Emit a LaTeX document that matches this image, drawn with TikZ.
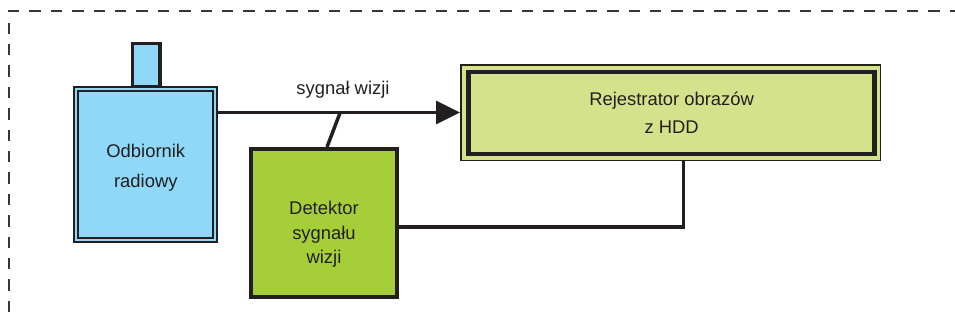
\documentclass[tikz,border=0pt]{standalone}
\usepackage{fontspec}
\setmainfont{Liberation Sans}
\usepackage{tikz}
\usetikzlibrary{arrows.meta,positioning}
\tikzset{>={Triangle[length=12pt,width=11.5pt]}}

\definecolor{ink}{RGB}{35,31,32}
\definecolor{odbblue}{RGB}{143,216,248}
\definecolor{detgreen}{RGB}{166,206,57}
\definecolor{rejgreen}{RGB}{212,227,139}

\begin{document}
\begin{tikzpicture}[x=0.5pt, y=-0.5pt,
                    frame/.style={line width=1pt, ink!90, dash pattern=on 5.7pt off 5pt},
                    wire/.style={line width=1.75pt, ink},
                    txt/.style={text=ink, align=center, font=\fontsize{9.2pt}{#1}\selectfont},
                    txt/.default=14pt,
                    odbbox/.style={draw=ink, line width=1pt, double=odbblue, double distance=1pt,
                                   fill=odbblue, minimum width=69.5pt, minimum height=75.6pt},
                    antbox/.style={draw=ink, line width=1.65pt, fill=odbblue,
                                   minimum width=13.85pt, minimum height=21.5pt},
                    detbox/.style={draw=ink, line width=2pt, fill=detgreen,
                                   minimum width=73pt, minimum height=73.75pt},
                    rejframe/.style={draw=ink, line width=0.75pt, fill=rejgreen,
                                     minimum width=209.75pt, minimum height=47.75pt},
                    rejbox/.style={draw=ink, line width=2.2pt, fill=rejgreen,
                                   minimum width=203pt, minimum height=41pt},
                   ]

\useasboundingbox (0,0) rectangle (955,322);

% dashed border, open to the right and bottom
\draw[frame] (8,11) -- (955,11);
\draw[frame] (9,22.5) -- (9,322);

% blocks
\node[antbox] (antena) at (146.2,65) {};
\node[odbbox, label={[txt=15pt, yshift=-1.6pt]center:Odbiornik\\radiowy}] (odb) at (145.8,164.7) {};
\node[detbox, label={[txt=12.2pt, yshift=-5.8pt]center:Detektor\\sygnału\\wizji}] (det) at (324,222.75) {};
\node[rejframe] (rejramka) at (670.5,112.5) {};
\node[rejbox, txt] (rej) at (671.6,113.1) {Rejestrator obrazów\\z HDD};

% connections
\coordinate (odczep) at (340,113);
\draw[wire,->] (odb.east |- rejramka.west) -- (rejramka.west);
\node[txt] (sygnal) at (343,89.5) {sygnał wizji};
\draw[wire] (odczep) -- ([xshift=1.5pt]det.north);
\draw[wire] ([yshift=-2.1pt]det.east) -| ([xshift=6.5pt]rejramka.south);

\end{tikzpicture}
\end{document}
